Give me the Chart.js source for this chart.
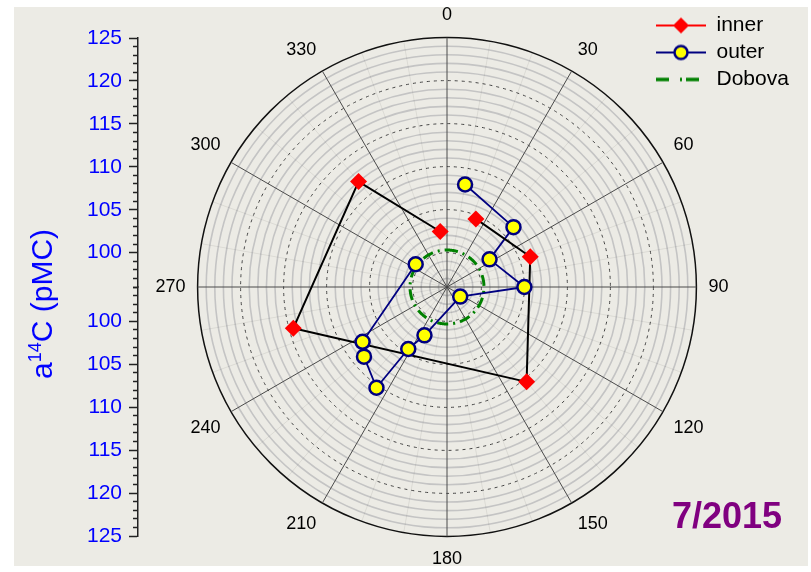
<!DOCTYPE html>
<html>
<head>
<meta charset="utf-8">
<script src="https://cdn.jsdelivr.net/npm/chart.js@4.4.1/dist/chart.umd.min.js"></script>
<style>
  html, body { margin: 0; padding: 0; background: #fff; }
  body { width: 811px; height: 572px; position: relative; overflow: hidden; font-family: 'Liberation Sans', Arial, sans-serif; }
  #panel { position: absolute; left: 14px; top: 7px; width: 794px; height: 559px; background: #ecebe5; }
  canvas { position: absolute; left: 0; top: 0; }
  #ytitle { position: absolute; left: 42px; top: 304px; transform: translate(-50%, -50%) rotate(-90deg);
            white-space: nowrap; font-size: 30px; color: #0000ff; }
  #ytitle sup { font-size: 0.6em; }
  #stamp { position: absolute; left: 672px; top: 498px; font: bold 36px 'Liberation Sans', Arial, sans-serif;
           line-height: 36px; color: #800080; }
</style>
</head>
<body>
<div id="panel"></div>
<canvas id="axis" width="160" height="572"></canvas>
<canvas id="polar" width="811" height="572"></canvas>
<div id="ytitle">a<sup>14</sup>C (pMC)</div>
<div id="stamp">7/2015</div>
<script>
Chart.defaults.font.family = "'Liberation Sans', Arial, sans-serif";
Chart.defaults.animation = false;

// one category per degree, 0 at the top, clockwise
var degrees = [];
for (var d = 0; d < 360; d++) degrees.push(String(d));

var innerAngles = [23, 70, 140, 255, 320, 353];
var innerValues = [104.6, 106.3, 110.4, 114.5, 112.0, 102.5];
var outerAngles = [10, 48, 57, 90, 126, 205, 212, 215, 230, 237, 306];
var outerValues = [108.1, 106.4, 101.9, 105.0, 97.9, 102.2, 104.5, 110.3, 108.6, 107.7, 100.5];
var dobova = 100.3;

var radialMin = 96, radialMax = 125;
var axisTicks = [100, 105, 110, 115, 120, 125];

function onCircle(angles, values) {
    var data = degrees.map(function () { return null; });
    angles.forEach(function (a, i) { data[a] = values[i]; });
    return data;
}

// the series are open paths: draw each link as its own two point set
function joins(angles, values, color, width) {
    var sets = [];
    for (var i = 0; i < angles.length - 1; i++) {
        sets.push({
            label: '',
            data: onCircle(angles.slice(i, i + 2), values.slice(i, i + 2)),
            borderColor: color,
            backgroundColor: color,
            borderWidth: width,
            pointRadius: 0,
            pointHitRadius: 0,
            spanGaps: true,
            fill: false,
            order: 1
        });
    }
    return sets;
}

function legendSymbol(draw) {
    var c = document.createElement('canvas');
    c.width = 50;
    c.height = 20;
    draw(c.getContext('2d'));
    return c;
}

var innerSymbol = legendSymbol(function (g) {
    g.strokeStyle = '#ff0000'; g.lineWidth = 2;
    g.beginPath(); g.moveTo(0, 10); g.lineTo(50, 10); g.stroke();
    g.fillStyle = '#ff0000';
    g.beginPath(); g.moveTo(25, 2); g.lineTo(33, 10); g.lineTo(25, 18); g.lineTo(17, 10); g.closePath(); g.fill();
});
var outerSymbol = legendSymbol(function (g) {
    g.strokeStyle = '#000080'; g.lineWidth = 2;
    g.beginPath(); g.moveTo(0, 10); g.lineTo(50, 10); g.stroke();
    g.fillStyle = '#ffff00'; g.lineWidth = 2.5;
    g.beginPath(); g.arc(25, 10, 6.5, 0, Math.PI * 2); g.fill(); g.stroke();
});
var dobovaSymbol = legendSymbol(function (g) {
    g.strokeStyle = '#008000'; g.lineWidth = 3.5;
    g.setLineDash([13, 11, 2, 4]);
    g.beginPath(); g.moveTo(0, 10); g.lineTo(44, 10); g.stroke();
});
var symbols = [innerSymbol, outerSymbol, dobovaSymbol];

// legend sits in the top right corner, outside the layout
var legendCorner = {
    id: 'legendCorner',
    beforeDraw: function (chart) {
        var lg = chart.legend;
        lg.left = 650;
        lg.top = 9;
        lg.right = lg.left + lg.width;
        lg.bottom = lg.top + 100;
    }
};

new Chart(document.getElementById('polar'), {
    type: 'radar',
    data: {
        labels: degrees,
        datasets: [
            {
                label: 'inner',
                data: onCircle(innerAngles, innerValues),
                showLine: false,
                fill: false,
                borderColor: '#ff0000',
                backgroundColor: '#ff0000',
                pointStyle: 'rectRot',
                pointRadius: 8.5,
                pointBorderWidth: 0,
                pointBackgroundColor: '#ff0000',
                pointBorderColor: '#ff0000',
                order: 0
            },
            {
                label: 'outer',
                data: onCircle(outerAngles, outerValues),
                showLine: false,
                fill: false,
                borderColor: '#000080',
                backgroundColor: '#ffff00',
                pointStyle: 'circle',
                pointRadius: 7,
                pointBorderWidth: 2.5,
                pointBackgroundColor: '#ffff00',
                pointBorderColor: '#000080',
                order: 0
            },
            {
                label: 'Dobova',
                data: degrees.map(function () { return dobova; }),
                fill: false,
                borderColor: '#008000',
                backgroundColor: '#008000',
                borderWidth: 3,
                borderDash: [11, 5, 2, 5],
                pointRadius: 0,
                pointHitRadius: 0,
                order: 2
            }
        ].concat(joins(innerAngles, innerValues, '#000000', 2))
         .concat(joins(outerAngles, outerValues, '#000080', 1.8))
    },
    options: {
        responsive: false,
        layout: { padding: { left: 142, right: 69, top: 4, bottom: 1 } },
        plugins: {
            tooltip: { enabled: false },
            legend: {
                position: 'chartArea',
                align: 'start',
                labels: {
                    usePointStyle: true,
                    pointStyleWidth: 50,
                    padding: 6,
                    color: '#000',
                    font: { size: 21 },
                    generateLabels: function (chart) {
                        return chart.data.datasets.slice(0, 3).map(function (ds, i) {
                            return {
                                text: ds.label,
                                pointStyle: symbols[i],
                                fillStyle: 'rgba(0,0,0,0)',
                                strokeStyle: 'rgba(0,0,0,0)',
                                lineWidth: 0,
                                hidden: false,
                                datasetIndex: i
                            };
                        });
                    }
                }
            }
        },
        scales: {
            r: {
                min: radialMin,
                max: radialMax,
                startAngle: 0,
                ticks: { display: false, stepSize: 1, maxTicksLimit: 100 },
                grid: {
                    circular: true,
                    color: function (c) {
                        if (c.tick.value === radialMax) return '#111';
                        if (axisTicks.indexOf(c.tick.value) >= 0) return '#444';
                        return '#c4c4c4';
                    },
                    lineWidth: function (c) {
                        if (c.tick.value === radialMax) return 1.5;
                        if (axisTicks.indexOf(c.tick.value) >= 0) return 1;
                        return 1.6;
                    }
                },
                border: {
                    dash: function (c) {
                        return (c.tick.value !== radialMax && axisTicks.indexOf(c.tick.value) >= 0) ? [3, 4] : [];
                    }
                },
                angleLines: {
                    color: function (c) { return c.index % 30 === 0 ? '#4a4a4a' : 'rgba(0,0,0,0.07)'; },
                    lineWidth: function (c) { return c.index % 10 === 0 ? 1 : 0; }
                },
                pointLabels: {
                    padding: 12,
                    color: '#000',
                    font: { size: 18 },
                    callback: function (label, index) { return index % 30 === 0 ? label : ''; }
                }
            }
        }
    },
    plugins: [legendCorner]
});

function tickColor(c) {
    if (c.tick && axisTicks.indexOf(c.tick.value) >= 0) return '#222';
    // minor ticks: only the inner half of the tick length is visible
    var s = c.scale;
    var g = c.chart.ctx.createLinearGradient(s.right - 9, 0, s.right, 0);
    g.addColorStop(0, 'rgba(34,34,34,0)');
    g.addColorStop(0.44, 'rgba(34,34,34,0)');
    g.addColorStop(0.45, '#222');
    g.addColorStop(1, '#222');
    return g;
}

function axisSide(reverse, weight) {
    return {
        type: 'linear',
        axis: 'y',
        position: 'left',
        stack: 'pmc',
        stackWeight: 1,
        weight: weight,
        min: radialMin,
        max: radialMax,
        reverse: reverse,
        afterFit: function (s) { s.width = 60; },
        ticks: {
            stepSize: 1,
            autoSkip: false,
            color: '#0000ff',
            padding: 7,
            font: { size: 21 },
            callback: function (v) { return axisTicks.indexOf(v) >= 0 ? v : ''; }
        },
        grid: { drawOnChartArea: false, drawTicks: true, tickLength: 9, tickWidth: 1.5, tickColor: tickColor },
        border: { display: true, color: '#222', width: 1.5 }
    };
}

new Chart(document.getElementById('axis'), {
    type: 'scatter',
    data: { datasets: [] },
    options: {
        responsive: false,
        layout: { padding: { left: 78, top: 38, bottom: 36, right: 0 } },
        plugins: { legend: { display: false }, tooltip: { enabled: false } },
        scales: {
            x: { type: 'linear', display: false },
            yTop: axisSide(false, 1),
            yBottom: axisSide(true, 0)
        }
    }
});
</script>
</body>
</html>
